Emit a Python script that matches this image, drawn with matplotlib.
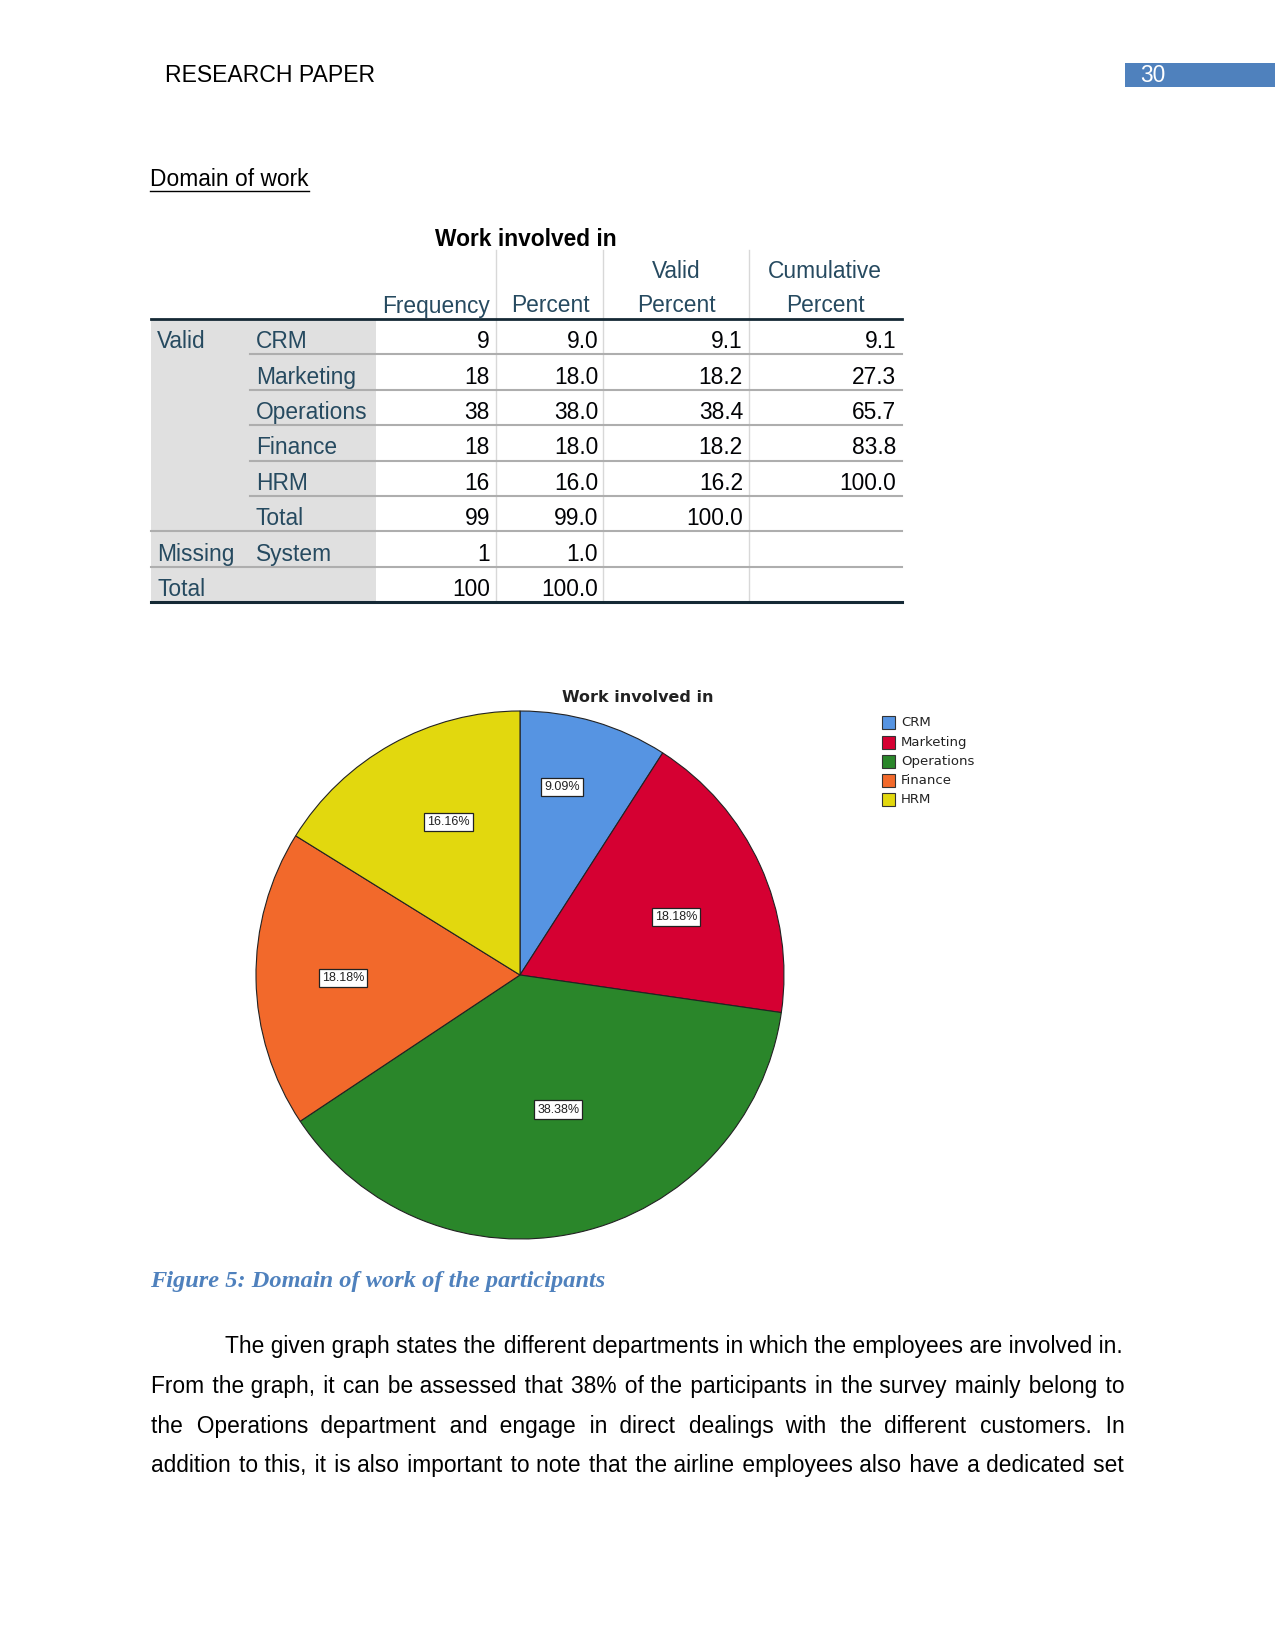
import matplotlib.pyplot as plt
from matplotlib.patches import Rectangle
import numpy as np

# données du tableau "Work involved in"
categories = ['CRM', 'Marketing', 'Operations', 'Finance', 'HRM']
frequency = [9, 18, 38, 18, 16]
percent = [9.0, 18.0, 38.0, 18.0, 16.0]
valid_percent = [9.1, 18.2, 38.4, 18.2, 16.2]
cumulative_percent = [9.1, 27.3, 65.7, 83.8, 100.0]
valid_total = (99, 99.0, 100.0)
missing_system = (1, 1.0)
grand_total = (100, 100.0)

pie_colors = ['#5694E2', '#D50032', '#2A862A', '#F2692B', '#E2D80E']

body_lines = [
    "The given graph states the different departments in which the employees are involved in.",
    "From the graph, it can be assessed that 38% of the participants in the survey mainly belong to",
    "the Operations department and engage in direct dealings with the different customers. In",
    "addition to this, it is also important to note that the airline employees also have a dedicated set",
]

W, H = 1275, 1651
fig = plt.figure(figsize=(W / 100, H / 100), dpi=100)
ax = fig.add_axes([0, 0, 1, 1])
ax.set_xlim(0, W)
ax.set_ylim(H, 0)
ax.axis('off')

SANS = 'Liberation Sans'
HEAD = '#264A60'
FS = 16.4

# en-tête de page
ax.text(165, 76, 'RESEARCH PAPER', fontsize=16.6, family=SANS, va='center', color='black')
ax.add_patch(Rectangle((1125, 63), 150, 24, color='#4F81BD', lw=0))
ax.text(1140, 76, '30', fontsize=FS, family=SANS, va='center', color='white')

ax.text(150, 179, 'Domain of work', fontsize=FS, family=SANS, va='center')
ax.plot([150, 309], [191, 191], color='black', lw=1)

# tableau
left, right = 150.6, 902
lab_right = 376
cat_x = 249.5
vlines = [496, 603, 749]
top = 319
rh = 35.4

ax.text(526, 240, 'Work involved in', fontsize=FS, family=SANS, weight='bold',
        ha='center', va='center')
ax.text(490, 306, 'Frequency', fontsize=FS, family=SANS, ha='right', va='center', color=HEAD)
ax.text(550, 306, 'Percent', fontsize=FS, family=SANS, ha='center', va='center', color=HEAD)
ax.text(676, 272, 'Valid', fontsize=FS, family=SANS, ha='center', va='center', color=HEAD)
ax.text(676, 306, 'Percent', fontsize=FS, family=SANS, ha='center', va='center', color=HEAD)
ax.text(825, 272, 'Cumulative', fontsize=FS, family=SANS, ha='center', va='center', color=HEAD)
ax.text(825, 306, 'Percent', fontsize=FS, family=SANS, ha='center', va='center', color=HEAD)

n_rows = len(categories) + 3
ax.add_patch(Rectangle((left, top), lab_right - left, rh * n_rows, color='#E0E0E0', lw=0))
for x in vlines:
    ax.plot([x, x], [250, top + rh * n_rows], color='#D8D8D8', lw=1)

rows = []
for i, c in enumerate(categories):
    rows.append(('Valid' if i == 0 else '', c, str(frequency[i]), f'{percent[i]:.1f}',
                 f'{valid_percent[i]:.1f}', f'{cumulative_percent[i]:.1f}'))
rows.append(('', 'Total', str(valid_total[0]), f'{valid_total[1]:.1f}', f'{valid_total[2]:.1f}', ''))
rows.append(('Missing', 'System', str(missing_system[0]), f'{missing_system[1]:.1f}', '', ''))
rows.append(('Total', '', str(grand_total[0]), f'{grand_total[1]:.1f}', '', ''))

num_right = [490, 598, 743, 896]
for k, r in enumerate(rows):
    yc = top + rh * (k + 0.5) + 5
    ax.text(157, yc, r[0], fontsize=FS, family=SANS, va='center', color=HEAD)
    ax.text(256, yc, r[1], fontsize=FS, family=SANS, va='center', color=HEAD)
    for xr, s in zip(num_right, r[2:]):
        ax.text(xr, yc, s, fontsize=FS, family=SANS, ha='right', va='center', color='#010205')
    ys = top + rh * (k + 1)
    if k < len(categories):
        ax.plot([cat_x, right], [ys, ys], color='#AEAEAE', lw=1.5)
    elif k < n_rows - 1:
        ax.plot([left, right], [ys, ys], color='#AEAEAE', lw=1.5)
ax.plot([left, right], [top, top], color='#152935', lw=2)
ax.plot([left, right], [top + rh * n_rows] * 2, color='#152935', lw=2.2)

# camembert
cx, cy, rad = 520, 975, 264
pax = fig.add_axes([(cx - rad) / W, (H - cy - rad) / H, 2 * rad / W, 2 * rad / H])
wedges, _ = pax.pie(frequency, colors=pie_colors, startangle=90, counterclock=False,
                    wedgeprops=dict(edgecolor='#222222', linewidth=0.8))
pax.set_xlim(-1, 1)
pax.set_ylim(-1, 1)
pax.axis('off')

# placement des étiquettes (rayon, décalage angulaire)
label_r = [0.73, 0.63, 0.53, 0.67, 0.64]
label_dang = [3.8, -4.1, 3.1, 0.0, -4.1]
total = sum(frequency)
for w, f, lr, da in zip(wedges, frequency, label_r, label_dang):
    ang = np.deg2rad((w.theta1 + w.theta2) / 2 + da)
    pax.text(lr * np.cos(ang), lr * np.sin(ang), f'{100 * f / total:.2f}%',
             fontsize=9, family=SANS, ha='center', va='center', color='#222222',
             bbox=dict(boxstyle='square,pad=0.25', fc='white', ec='#222222', lw=0.9))

ax.text(638, 698, 'Work involved in', fontsize=11.5, family='DejaVu Sans', weight='bold',
        ha='center', va='center', color='#222222')

# légende
for i, (c, col) in enumerate(zip(categories, pie_colors)):
    y = 723 + 19.1 * i
    ax.add_patch(Rectangle((882, y - 6.5), 13, 13, fc=col, ec='#333333', lw=0.8))
    ax.text(901, y, c, fontsize=9.5, family='DejaVu Sans', va='center', color='#222222')

# légende de figure
ax.text(150, 1281, 'Figure 5: Domain of work of the participants', fontsize=17.6,
        family='Liberation Serif', weight='bold', style='italic', color='#4F81BD', va='center')

# paragraphe justifié : une ligne = un texte, espaces fines ajoutées entre les mots
renderer = fig.canvas.get_renderer()
fam = [SANS, 'DejaVu Sans']
HAIR = '\u200a'


def text_width(s):
    t = ax.text(0, 0, s, fontsize=FS, family=fam)
    w = t.get_window_extent(renderer).width
    t.remove()
    return w


hair_w = text_width('a' + HAIR * 10 + 'a') / 10 - text_width('aa') / 10
x_right = 1123.5
line_y = [1352.5, 1392.5, 1432.5, 1472]
for i, (line, y) in enumerate(zip(body_lines, line_y)):
    x0 = 225.3 if i == 0 else 150.6
    words = line.split()
    extra = (x_right - x0) - text_width(line)
    n_gap = len(words) - 1
    per_gap = max(extra, 0) / n_gap / hair_w
    s = words[0]
    for j in range(n_gap):
        k = int(round(per_gap * (j + 1))) - int(round(per_gap * j))
        s += ' ' + HAIR * k + words[j + 1]
    ax.text(x0, y, s, fontsize=FS, family=fam, va='baseline')

fig.savefig('out.png', dpi=100)
